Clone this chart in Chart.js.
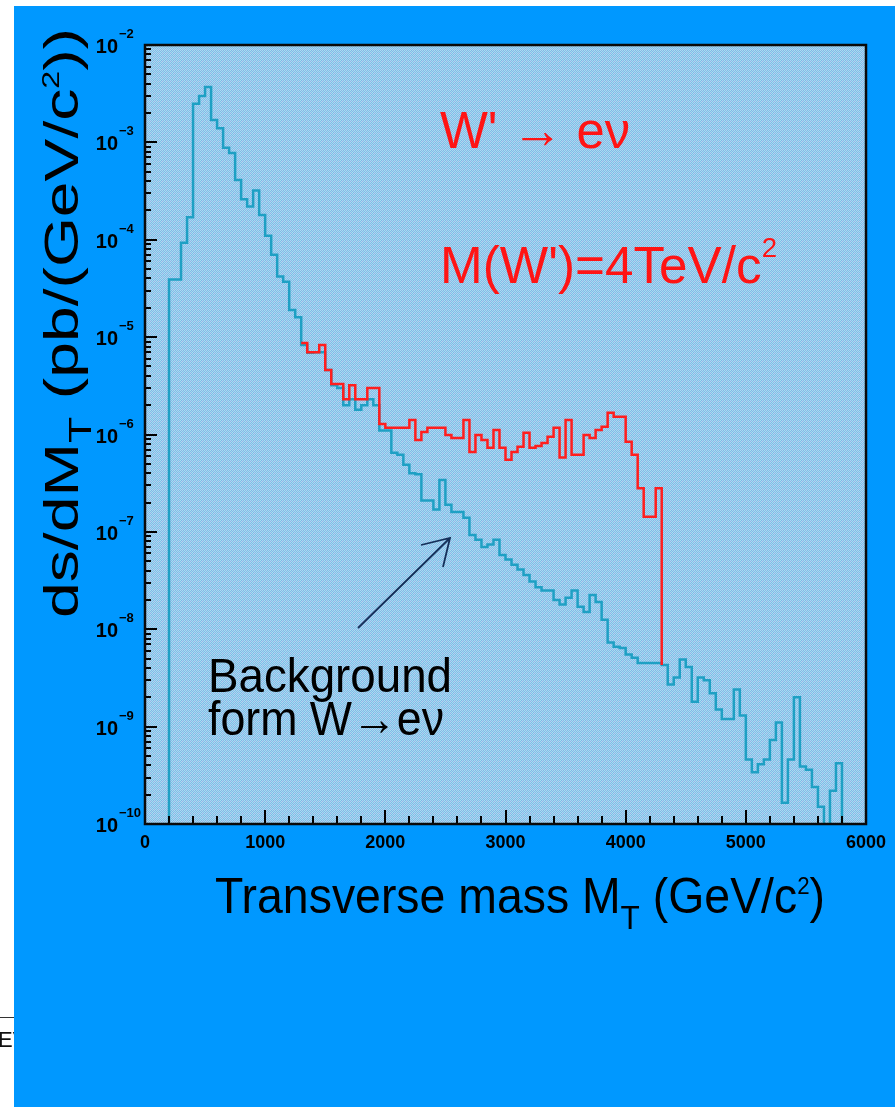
<!DOCTYPE html>
<html>
<head>
<meta charset="utf-8">
<script src="https://cdn.jsdelivr.net/npm/chart.js@4.4.0/dist/chart.umd.min.js"></script>
<style>
html, body { margin: 0; padding: 0; background: #fff; }
canvas { display: block; }
</style>
</head>
<body>
<canvas id="grafico" width="895" height="1107"></canvas>
<script>
// histogram bins: 50 GeV wide, given by lower edge
const larguraBin = 50;

// W -> e nu background, bins from 200 GeV
const fundoInicio = 200;
const fundoValores = [
    3.9e-5, 3.9e-5, 9.3e-5, 1.7e-4, 2.5e-3, 3.0e-3, 3.7e-3, 1.7e-3, 1.4e-3, 8.8e-4,
    7.8e-4, 4.1e-4, 2.6e-4, 2.2e-4, 3.2e-4, 1.8e-4, 1.1e-4, 7.0e-5, 4.2e-5, 3.7e-5,
    1.9e-5, 1.6e-5, 8.3e-6, 6.9e-6, 7.0e-6, 7.0e-6, 4.6e-6, 3.2e-6, 3.0e-6, 2.0e-6,
    2.3e-6, 1.8e-6, 2.0e-6, 2.3e-6, 2.0e-6, 1.1e-6, 1.1e-6, 6.5e-7, 6.2e-7, 4.9e-7,
    4.0e-7, 3.9e-7, 2.1e-7, 2.1e-7, 1.7e-7, 3.4e-7, 1.9e-7, 1.6e-7, 1.6e-7, 1.4e-7,
    9.3e-8, 8.3e-8, 7.0e-8, 7.4e-8, 8.3e-8, 5.8e-8, 5.2e-8, 4.6e-8, 4.1e-8, 3.6e-8,
    3.1e-8, 2.7e-8, 2.5e-8, 2.5e-8, 2.0e-8, 1.8e-8, 2.1e-8, 2.5e-8, 1.7e-8, 1.5e-8,
    2.25e-8, 1.9e-8, 1.25e-8, 7.3e-9, 6.6e-9, 6.4e-9, 5.5e-9, 5.1e-9, 4.5e-9, 4.5e-9,
    4.5e-9, 4.5e-9, 4.3e-9, 2.7e-9, 3.2e-9, 4.9e-9, 4.1e-9, 1.8e-9, 3.2e-9, 3.0e-9,
    2.2e-9, 1.5e-9, 1.2e-9, 1.2e-9, 2.4e-9, 1.3e-9, 4.6e-10, 3.4e-10, 4.1e-10, 4.6e-10,
    7.3e-10, 1.1e-9, 1.65e-10, 4.6e-10, 2.0e-9, 3.9e-10, 3.6e-10, 2.4e-10, 1.5e-10, 8.7e-11,
    2.2e-10, 4.2e-10
];

// W' (4 TeV) signal + background, bins from 1300 GeV up to 4300 GeV
const sinalInicio = 1300;
const sinalValores = [
    8.7e-6, 7.0e-6, 7.0e-6, 8.3e-6, 4.6e-6, 3.3e-6, 3.3e-6, 2.3e-6, 3.2e-6, 2.3e-6,
    2.3e-6, 3.0e-6, 3.0e-6, 1.28e-6, 1.17e-6, 1.17e-6, 1.17e-6, 1.17e-6, 1.41e-6, 8.8e-7,
    1.06e-6, 1.17e-6, 1.17e-6, 1.17e-6, 9.9e-7, 9.2e-7, 9.2e-7, 1.41e-6, 6.6e-7, 9.9e-7,
    8.8e-7, 7.3e-7, 1.11e-6, 7.3e-7, 5.5e-7, 6.6e-7, 7.5e-7, 1.04e-6, 7.3e-7, 7.6e-7,
    8.2e-7, 9.5e-7, 1.17e-6, 5.8e-7, 1.41e-6, 6.2e-7, 6.2e-7, 9.9e-7, 9.2e-7, 1.11e-6,
    1.2e-6, 1.67e-6, 1.52e-6, 1.52e-6, 8.4e-7, 6.2e-7, 2.8e-7, 1.43e-7, 1.43e-7, 2.8e-7
];

const xMin = 0, xMax = 6000;
const yMin = 1e-10, yMax = 1e-2;
const xTicksMaiores = [0, 1000, 2000, 3000, 4000, 5000, 6000];
const yDecadas = [-2, -3, -4, -5, -6, -7, -8, -9, -10];

const fonte = "'Liberation Sans', Arial, Helvetica, sans-serif";

// step outline for a histogram: starts at the axis floor, ends on the last bin
function pontosHistograma(inicio, valores, fim) {
    const pts = [{ x: inicio, y: yMin }];
    valores.forEach((v, i) => pts.push({ x: inicio + i * larguraBin, y: v }));
    const borda = inicio + valores.length * larguraBin;
    pts.push({ x: borda, y: fim === undefined ? valores[valores.length - 1] : fim });
    return pts;
}

// signal line falls back onto the background where it stops
const sinalFimBin = (sinalInicio + sinalValores.length * larguraBin - fundoInicio) / larguraBin;
const pontosSinal = pontosHistograma(sinalInicio, sinalValores, fundoValores[sinalFimBin]).slice(1);
const pontosFundo = pontosHistograma(fundoInicio, fundoValores, yMin);

function criarPadrao(ctx) {
    const c = document.createElement('canvas');
    c.width = 4; c.height = 4;
    const g = c.getContext('2d');
    const cores = [
        ['#a8def0', '#7fb4e8', '#a4dcf0', '#8ab8ea'],
        ['#84bce8', '#aadef0', '#9eaee6', '#a8dcf0'],
        ['#a6def0', '#8cb6e8', '#a8def0', '#7eb6e8'],
        ['#80b8e8', '#a8dcf0', '#86bae8', '#a4daee']
    ];
    for (let r = 0; r < 4; r++) {
        for (let k = 0; k < 4; k++) {
            g.fillStyle = cores[r][k];
            g.fillRect(k, r, 1, 1);
        }
    }
    return ctx.createPattern(c, 'repeat');
}

// draws a run of text pieces (sub/superscripts), stretched to a given width
function textoRico(ctx, partes, x, y, largura, cor) {
    let total = 0;
    const medidas = partes.map(p => {
        ctx.font = (p[3] || 'normal') + ' ' + p[1] + 'px ' + fonte;
        const w = ctx.measureText(p[0]).width;
        total += w;
        return w;
    });
    const esc = largura ? largura / total : 1;
    ctx.save();
    ctx.translate(x, y);
    ctx.scale(esc, 1);
    ctx.fillStyle = cor;
    ctx.textAlign = 'left';
    ctx.textBaseline = 'alphabetic';
    let cx = 0;
    partes.forEach((p, i) => {
        ctx.font = (p[3] || 'normal') + ' ' + p[1] + 'px ' + fonte;
        ctx.fillText(p[0], cx, p[2] || 0);
        cx += medidas[i];
    });
    ctx.restore();
}

const moldura = {
    id: 'moldura',
    beforeDraw(chart) {
        const ctx = chart.ctx;
        const a = chart.chartArea;
        ctx.save();
        ctx.fillStyle = '#ffffff';
        ctx.fillRect(0, 0, chart.width, chart.height);
        // bit of the page showing at the left edge
        ctx.strokeStyle = '#333';
        ctx.lineWidth = 1;
        ctx.beginPath();
        ctx.moveTo(0, 1017.5);
        ctx.lineTo(14, 1017.5);
        ctx.stroke();
        ctx.fillStyle = '#111';
        ctx.font = '22px ' + fonte;
        ctx.fillText('EV', -2, 1047);
        ctx.fillStyle = '#0098ff';
        ctx.fillRect(14, 6, chart.width - 14, chart.height - 6);
        ctx.fillStyle = criarPadrao(ctx);
        ctx.fillRect(a.left, a.top, a.right - a.left, a.bottom - a.top);
        ctx.restore();
    },
    afterDraw(chart) {
        const ctx = chart.ctx;
        const a = chart.chartArea;
        const xs = chart.scales.x, ys = chart.scales.y;
        ctx.save();

        // ticks on the inside of the frame
        ctx.strokeStyle = '#000';
        ctx.lineWidth = 2;
        ctx.beginPath();
        for (let v = xMin; v <= xMax; v += 200) {
            const px = Math.round(xs.getPixelForValue(v));
            const len = v % 1000 === 0 ? 14 : 8;
            ctx.moveTo(px, a.bottom);
            ctx.lineTo(px, a.bottom - len);
        }
        yDecadas.forEach(d => {
            const py = Math.round(ys.getPixelForValue(Math.pow(10, d)));
            ctx.moveTo(a.left, py);
            ctx.lineTo(a.left + 12, py);
            if (d > -10) {
                for (let m = 2; m <= 9; m++) {
                    const pm = Math.round(ys.getPixelForValue(m * Math.pow(10, d - 1)));
                    ctx.moveTo(a.left, pm);
                    ctx.lineTo(a.left + 6, pm);
                }
            }
        });
        ctx.stroke();

        // frame
        ctx.lineWidth = 2.5;
        ctx.strokeStyle = '#0a0a0a';
        ctx.strokeRect(a.left, a.top, a.right - a.left, a.bottom - a.top);

        // y tick labels 10^n
        ctx.fillStyle = '#000';
        yDecadas.forEach(d => {
            const py = ys.getPixelForValue(Math.pow(10, d));
            ctx.font = 'bold 20px ' + fonte;
            ctx.textAlign = 'right';
            ctx.fillText('10', 118, py + 8);
            ctx.font = 'bold 13px ' + fonte;
            ctx.textAlign = 'left';
            ctx.fillText('\u2212' + (-d), 119, py - 7);
        });

        // x tick labels
        ctx.font = 'bold 18px ' + fonte;
        ctx.textAlign = 'center';
        xTicksMaiores.forEach(v => {
            ctx.fillText(String(v), xs.getPixelForValue(v), a.bottom + 24);
        });

        // axis titles
        textoRico(ctx, [
            ['Transverse mass M', 50], ['T', 34, 16], [' (GeV/c', 50], ['2', 24, -19], [')', 50]
        ], 215, 913, 610, '#000');

        ctx.save();
        ctx.translate(78, 618);
        ctx.rotate(-Math.PI / 2);
        textoRico(ctx, [
            ['ds/dM', 48], ['T', 32, 13], [' (pb/(GeV/c', 48], ['2', 24, -19], ['))', 48]
        ], 0, 0, 590, '#000');
        ctx.restore();

        // labels inside the frame
        textoRico(ctx, [['W\' \u2192 e\u03bd', 52]], 440, 148, 190, '#ff1414');
        textoRico(ctx, [['M(W\')=4TeV/c', 52], ['2', 28, -26]], 440, 283, 337, '#ff1414');
        textoRico(ctx, [['Background', 48]], 208, 692, 244, '#000');
        textoRico(ctx, [['form W\u2192e\u03bd', 48]], 208, 735, 236, '#000');

        // pointer to the background curve
        ctx.strokeStyle = '#15305a';
        ctx.lineWidth = 1.8;
        ctx.beginPath();
        ctx.moveTo(358, 628);
        ctx.lineTo(450, 538);
        ctx.moveTo(421, 545);
        ctx.lineTo(450, 538);
        ctx.lineTo(443, 567);
        ctx.stroke();

        ctx.restore();
    }
};

new Chart(document.getElementById('grafico'), {
    type: 'line',
    data: {
        datasets: [
            {
                label: 'W\' signal + background',
                data: pontosSinal,
                stepped: 'before',
                borderColor: '#ff1e1e',
                borderWidth: 2.5,
                pointRadius: 0,
                fill: false
            },
            {
                label: 'Background W \u2192 e\u03bd',
                data: pontosFundo,
                stepped: 'before',
                borderColor: '#1ea0c4',
                borderWidth: 2.5,
                pointRadius: 0,
                fill: false
            }
        ]
    },
    options: {
        responsive: false,
        animation: false,
        events: [],
        layout: { padding: { left: 145, top: 45, right: 29, bottom: 283 } },
        scales: {
            x: { type: 'linear', min: xMin, max: xMax, display: false },
            y: { type: 'logarithmic', min: yMin, max: yMax, display: false }
        },
        plugins: {
            legend: { display: false },
            tooltip: { enabled: false }
        }
    },
    plugins: [moldura]
});
</script>
</body>
</html>
